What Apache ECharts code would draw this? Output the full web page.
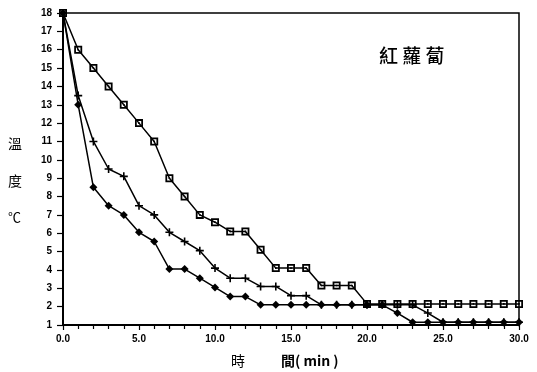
<!DOCTYPE html>
<html>
<head>
<meta charset="utf-8">
<script src="https://cdn.jsdelivr.net/npm/echarts@6/dist/echarts.min.js"></script>
<style>html,body{margin:0;padding:0;background:#fff}#c{width:537px;height:372px}</style>
</head>
<body>
<div id="c"></div>
<script>
const times = [0,1,2,3,4,5,6,7,8,9,10,11,12,13,14,15,16,17,18,19,20,21,22,23,24,25,26,27,28,29,30];
const seriesSquare = [18,16,15,14,13,12,11,9,8,7,6.6,6.1,6.1,5.1,4.1,4.1,4.1,3.15,3.15,3.15,2.15,2.15,2.15,2.15,2.15,2.15,2.15,2.15,2.15,2.15,2.15];
const seriesCross = [18,13.5,11,9.5,9.1,7.5,7,6.05,5.55,5.05,4.1,3.55,3.55,3.1,3.1,2.6,2.6,2.1,2.1,2.1,2.1,2.1,2.1,2.1,1.65,1.15,1.15,1.15,1.15,1.15,1.15];
const seriesDiamond = [18,13,8.5,7.5,7,6.05,5.55,4.05,4.05,3.55,3.05,2.55,2.55,2.1,2.1,2.1,2.1,2.1,2.1,2.1,2.1,2.1,1.65,1.15,1.15,1.15,1.15,1.15,1.15,1.15,1.15];
const yTicks = [1,18,1]; // min, max, interval
const xTicks = [0,30,5];
const title = '紅 蘿 蔔';

const pair = arr => arr.map((v,i)=>[times[i], v]);
const sqSym = 'path://M0,0L10,0L10,10L0,10Z M2.2,2.2L2.2,7.8L7.8,7.8L7.8,2.2Z M4,4L6,4L6,6L4,6Z';
const crossSym = 'path://M4,0L6,0L6,4L10,4L10,6L6,6L6,10L4,10L4,6L0,6L0,4L4,4Z';
const mk = (data, sym, size) => ({
  type:'line', data: pair(data), symbol: sym, symbolSize: size, showSymbol:true,
  lineStyle:{color:'#000', width:1.5}, itemStyle:{color:'#000', borderWidth:0},
  animation:false, z:3
});
const numFont = {fontFamily:'Liberation Sans', fontWeight:'bold', fontSize:10, color:'#000'};
const chart = echarts.init(document.getElementById('c'), null, {renderer:'canvas'});
chart.setOption({
  animation:false,
  backgroundColor:'#fff',
  grid:{left:63, right:18, top:13, bottom:47, show:true, borderColor:'#000', borderWidth:1.5, backgroundColor:'transparent'},
  xAxis:{type:'value', min:xTicks[0], max:xTicks[1], interval:xTicks[2],
    axisLine:{lineStyle:{color:'#000', width:2}},
    axisTick:{show:true, inside:false, length:5, lineStyle:{color:'#000', width:1.2}},
    minorTick:{show:true, splitNumber:5, length:4, lineStyle:{color:'#000', width:1.2}},
    splitLine:{show:false},
    axisLabel:Object.assign({margin:9, formatter:v=>v.toFixed(1)}, numFont)
  },
  yAxis:{type:'value', min:yTicks[0], max:yTicks[1], interval:yTicks[2],
    axisLine:{lineStyle:{color:'#000', width:2}},
    axisTick:{show:true, inside:false, length:6, lineStyle:{color:'#000', width:1.2}},
    splitLine:{show:false},
    axisLabel:Object.assign({margin:11}, numFont)
  },
  graphic:[
    {type:'text', left:379, top:46, style:{text:title, font:'500 19px "Noto Sans CJK TC"', fill:'#000'}},
    {type:'text', left:8, top:137, style:{text:'溫', font:'14px "Noto Sans CJK TC"', fill:'#000'}},
    {type:'text', left:8, top:174, style:{text:'度', font:'14px "Noto Sans CJK TC"', fill:'#000'}},
    {type:'text', left:8, top:211, style:{text:'℃', font:'13px "Noto Sans CJK TC"', fill:'#000'}},
    {type:'text', left:231, top:354, style:{text:'時', font:'14px "Noto Sans CJK TC"', fill:'#000'}},
    {type:'text', left:281, top:354, style:{text:'間( min )', font:'bold 14px "Noto Sans CJK TC"', fill:'#000'}}
  ],
  series:[
    mk(seriesSquare, sqSym, 8),
    mk(seriesCross, crossSym, 8),
    mk(seriesDiamond, 'diamond', 8)
  ]
});
</script>
</body>
</html>
